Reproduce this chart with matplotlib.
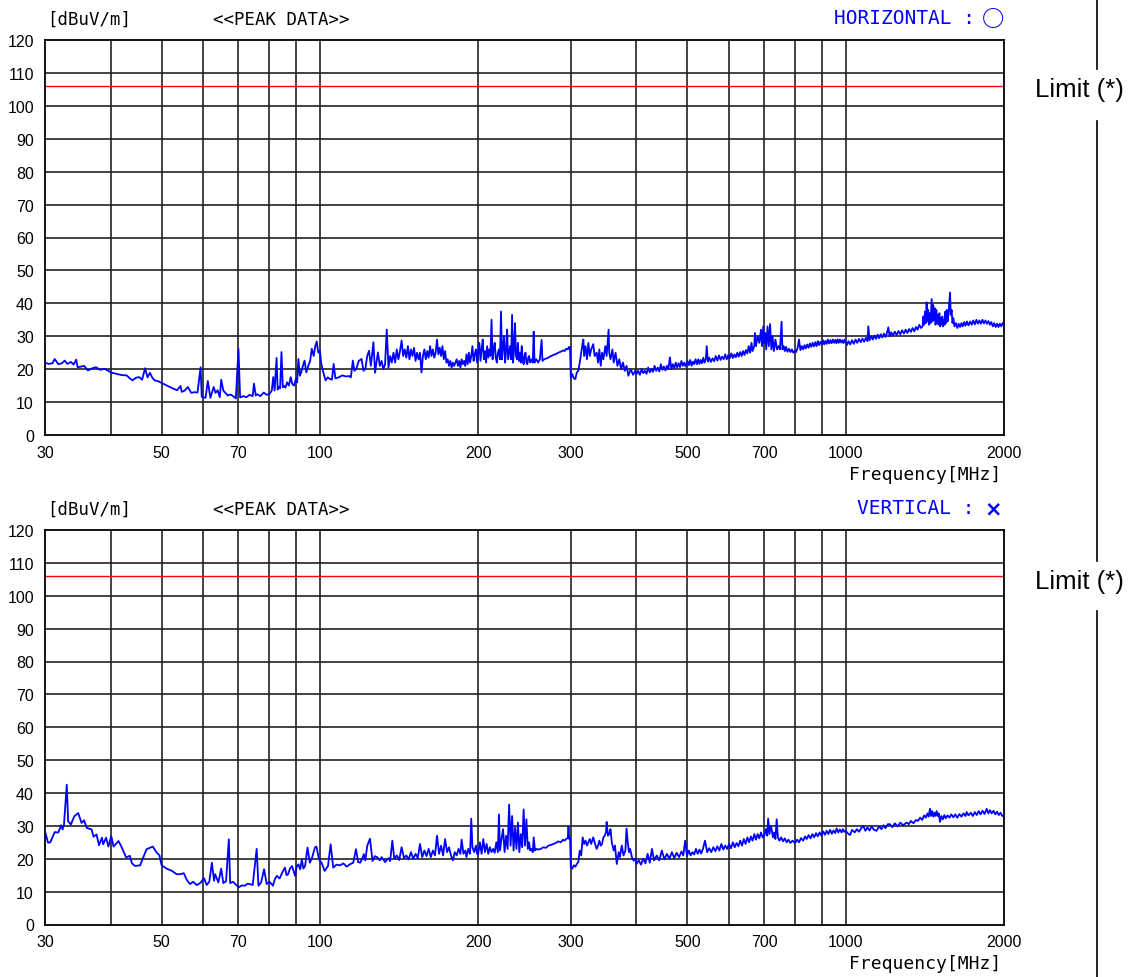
import matplotlib
matplotlib.use('Agg')
import matplotlib.pyplot as plt
from matplotlib.lines import Line2D
from matplotlib.ticker import NullLocator

# peak trace, horizontal polarisation (MHz, dBuV/m)
h_freq = [
    30, 30.5, 31, 31.3, 31.8, 32.3, 32.7, 33.1, 33.6, 34.0,
    34.4, 34.6, 35.2, 35.6, 36.2, 36.8, 37.5, 38.2, 38.9, 39.5,
    40.0, 41.0, 42.0, 42.9, 43.5, 44.0, 44.7, 45.3, 45.9, 46.5,
    47.0, 47.5, 48.0, 48.5, 49.3, 50.0, 51.2, 52.6, 53.5, 54.3,
    54.6, 55.3, 56.1, 56.9, 57.7, 58.5, 59.3, 59.6, 60.6, 61.2,
    61.9, 62.8, 63.3, 63.9, 64.5, 64.9, 65.5, 66.1, 66.8, 67.6,
    68.4, 69.2, 70.0, 70.5, 71.5, 72.5, 73.5, 74.5, 74.9, 75.5,
    76.0, 77.0, 78.2, 79.2, 80.3, 81.0, 81.5, 82.0, 82.7, 83.1,
    83.5, 84.0, 84.5, 85.0, 85.3, 86.0, 86.6, 87.3, 88.0, 88.6,
    89.3, 90.0, 90.5, 91.0, 91.6, 92.1, 92.8, 93.5, 94.2, 95.0,
    95.8, 96.5, 97.3, 98.0, 98.6, 99.3, 100.0, 100.6, 101.5, 102.5,
    103.5, 104.5, 105.4, 106.2, 107.0, 108.5, 110.3, 112.0, 113.7, 114.5,
    115.5, 116.3, 117.3, 118.5, 120.0, 121.0, 122.0, 123.0, 124.0, 125.0,
    126.4, 127.3, 128.9, 130, 131, 132, 133, 134, 135, 136,
    137, 138, 139, 140, 141, 142, 143, 144, 145, 146,
    147, 148, 149, 150, 151, 152, 153, 154, 155, 156,
    157, 158, 159, 160, 161, 162, 163, 164, 165, 166,
    167, 168, 169, 170, 171, 172, 173, 174, 175, 176,
    177, 178, 179, 180, 182, 183, 184, 185, 186, 187,
    188, 189, 190, 191, 192, 193, 194, 195, 196, 197,
    198, 199, 200, 201, 202, 203, 204, 205, 206, 207,
    208, 209, 210, 211, 212, 213, 214, 215, 216, 217,
    218, 219, 220, 221, 222, 223, 224, 225, 226, 227,
    228, 229, 230, 231, 232, 233, 234, 235, 236, 237,
    238, 239, 240, 241, 242, 243, 244, 245, 246, 247,
    248, 249, 250, 251, 252, 253, 254, 255, 256, 257,
    258, 260, 262, 264, 265, 267, 269, 272, 275, 278,
    281, 284, 287, 290, 292, 294, 296, 298, 299, 300,
    302, 304, 306, 308, 310, 312, 314, 316, 317, 318,
    320, 322, 324, 326, 328, 331, 333, 336, 338, 340,
    342, 344, 346, 349, 351, 354, 355, 357, 360, 362,
    365, 368, 371, 374, 377, 380, 383, 386, 390, 394,
    398,
    400, 403, 406, 409, 412, 415, 418, 421, 424, 427,
    430, 433, 436, 439, 442, 445, 448, 451, 454, 457,
    460, 463, 466, 469, 472, 475, 478, 481, 484, 487,
    490, 493, 496, 500, 503, 506, 509, 512, 515, 518,
    521, 524, 527, 530, 533, 536, 539, 542, 544, 547,
    550, 554, 558, 562, 566, 570, 574, 578, 582, 586,
    590, 594, 598, 602, 606, 610, 614, 618, 622, 626,
    630, 634, 638, 642, 646, 650, 654, 658, 662, 665,
    670, 672, 675, 680, 685, 690, 693, 697, 700,
    703, 706, 710, 714, 718, 722, 726, 730, 735, 740,
    745, 750, 755, 758, 762, 766, 770, 775, 780, 785,
    790, 795, 800,
    805, 810, 815, 820, 825, 830, 835, 840, 845, 850,
    855, 860, 865, 870, 875, 880, 885, 890, 895, 900,
    905, 910, 915, 920, 925, 930, 935, 940, 945, 950,
    955, 960, 965, 970, 975, 980, 985, 990, 995, 1000,
    1005, 1012, 1020, 1028, 1036, 1044, 1052, 1060, 1068, 1076,
    1084, 1092, 1100, 1104, 1110, 1118, 1126, 1134, 1142, 1150,
    1158, 1166, 1174, 1182, 1190, 1198, 1205, 1212, 1220, 1230,
    1240, 1250, 1260, 1270, 1280, 1290, 1300, 1310, 1320, 1330,
    1340, 1350, 1360, 1370, 1380, 1390,
    1400, 1405, 1410, 1415, 1420, 1425, 1430, 1435, 1440, 1445,
    1450, 1457, 1462, 1467, 1472, 1477, 1482, 1487, 1492, 1497,
    1502, 1507, 1512, 1517, 1522, 1527, 1532, 1537, 1542, 1547,
    1552, 1557, 1562, 1567, 1572, 1579, 1584, 1590, 1596, 1602,
    1610, 1620, 1630, 1640, 1650, 1660, 1670, 1680, 1690, 1700,
    1712, 1724, 1736, 1748, 1760, 1772, 1784, 1796, 1808, 1820,
    1832, 1844, 1856, 1868, 1880, 1892, 1904, 1916, 1928, 1940,
    1952, 1964, 1976, 1988, 2000,
]
h_level = [
    22, 21.6, 21.8, 23.1, 21.5, 21.8, 22.6, 21.6, 22.2, 21.4,
    22.9, 20.6, 20.8, 21.0, 19.6, 20.2, 20.6, 19.8, 20.1, 19.6,
    19.0, 18.6, 18.2, 18.1, 17.2, 16.6, 17.4, 17.6, 16.8, 20.3,
    17.5, 18.9, 17.4, 16.6, 16.3, 15.8, 15.0, 14.1, 13.6, 14.9,
    13.1, 13.5, 14.6, 12.8, 13.0, 12.9, 20.6, 11.6, 11.3, 16.4,
    11.3, 14.6, 12.8, 13.6, 11.5, 16.8, 13.5, 12.8, 12.0, 12.3,
    11.8, 11.1, 26.2, 11.4, 11.8, 11.5, 12.2, 11.8, 15.6, 12.0,
    12.4, 11.8, 12.9, 12.2, 12.6, 13.5, 17.6, 13.5, 23.4, 13.8,
    14.6, 14.2, 25.2, 14.5, 15.0, 14.4, 16.0, 15.0, 17.6, 15.5,
    15.0, 17.0, 16.0, 23.1, 18.0, 19.0, 21.0, 22.6, 19.0, 21.0,
    22.5, 26.2, 24.0, 27.0, 28.4, 25.0, 25.5, 21.6, 19.0, 16.6,
    17.5, 17.0, 16.8, 21.6, 17.2, 17.5, 18.1, 17.8, 17.9, 17.5,
    22.6, 19.5, 20.1, 22.5, 23.1, 19.5, 20.1, 24.0, 25.6, 21.0,
    28.2, 18.9, 25.1, 21.0, 22.5, 20.0, 21.5, 32.0, 20.5, 24.0,
    22.0, 25.0, 22.0, 26.0, 23.0, 25.5, 28.7, 24.0, 26.0, 23.5,
    27.0, 23.0, 26.0, 24.0, 26.5, 22.5, 25.0, 23.0, 25.0, 19.0,
    24.0, 26.0, 23.0, 25.5, 23.5, 27.0, 24.0, 26.0, 23.5, 25.0,
    29.0, 24.5, 26.5, 24.0, 27.0, 23.0, 25.5, 22.0, 23.0, 21.0,
    22.5, 20.5, 22.0, 21.0, 23.0, 21.0, 22.5, 20.5, 23.0, 21.5,
    22.5, 21.0, 24.5, 21.5, 25.0, 22.0, 24.0, 27.0, 22.5, 24.5,
    26.0, 22.0, 25.0, 28.0, 22.5, 26.0, 29.0, 23.0, 25.5, 22.0,
    27.0, 23.5, 26.0, 24.0, 35.0, 23.0, 26.0, 28.0, 23.5, 22.0,
    25.0, 26.0, 23.0, 37.5, 23.0, 27.0, 30.0, 22.0, 25.5, 32.0,
    23.0, 25.0, 27.0, 23.0, 36.5, 22.0, 26.0, 34.0, 24.0, 23.0,
    28.0, 22.5, 25.0, 22.0, 27.0, 23.0, 21.5, 24.0, 25.0, 22.0,
    21.5, 23.5, 24.0, 22.0, 22.5, 23.0, 22.0, 31.4, 22.0, 22.8,
    23.0, 22.0, 23.0, 28.9, 22.5, 23.0, 23.2, 23.5, 24.0, 24.3,
    24.6, 25.0, 25.3, 25.7, 25.5, 26.2, 26.0, 26.8, 26.5, 17.5,
    18.5, 17.2, 17.0, 19.0, 19.5, 22.0, 25.0, 28.0, 29.0, 24.0,
    27.0, 23.0, 28.0, 24.0, 26.0, 27.6, 24.0, 25.0, 22.0, 26.0,
    21.0, 25.0, 23.0, 27.0, 24.0, 32.0, 25.0, 23.0, 26.0, 22.0,
    25.0, 21.0, 23.0, 20.0, 22.0, 19.5, 21.0, 18.0, 20.0, 18.3,
    19.5,
    18.5, 19.5, 18.3, 20.0, 18.8, 19.5, 18.6, 20.5, 19.0, 20.0,
    19.2, 21.0, 19.5, 20.5, 19.3, 21.5, 19.8, 20.8, 19.6, 21.0,
    20.0, 23.6, 20.0, 21.5, 20.3, 22.0, 20.5, 21.8, 20.6, 22.5,
    21.0, 22.0, 20.8, 22.5, 21.2, 22.8, 21.0, 22.3, 21.5, 23.0,
    21.5, 23.0, 21.6, 22.8, 21.8, 23.5, 22.0, 23.0, 27.0, 22.3,
    23.5, 22.2, 23.3, 22.4, 24.0, 22.6, 24.2, 22.8, 23.8, 23.0,
    24.5, 23.0, 24.3, 23.3, 24.8, 23.4, 24.5, 23.6, 25.0, 23.8,
    25.2, 24.0, 25.5, 24.3, 25.8, 24.8, 27.0, 25.0, 28.0, 25.5,
    27.0, 31.0, 27.0, 30.0, 28.0, 32.0, 27.0, 33.0, 28.0,
    31.0, 26.0, 33.0, 27.0, 33.7, 26.0, 30.0, 25.5, 29.0, 26.0,
    27.0, 26.0, 34.4, 26.0, 27.0, 25.5, 26.8, 25.3, 26.2, 25.2,
    26.0, 25.0, 25.6,
    25.2, 26.5, 29.0, 25.8, 27.0, 26.0, 27.3, 26.3, 27.5, 26.5,
    27.8, 26.8, 28.0, 26.9, 28.2, 27.0, 28.5, 27.3, 28.3, 27.5,
    28.8, 27.5, 28.6, 27.7, 29.0, 27.8, 28.8, 27.9, 29.0, 28.0,
    28.9, 27.9, 29.1, 28.0, 29.0, 28.1, 28.8, 27.9, 29.0, 28.3,
    27.3, 28.5, 27.5, 28.8, 27.7, 29.0, 28.0, 29.2, 28.2, 29.3,
    28.3, 29.5, 28.5, 33.0, 28.8, 30.0, 29.0, 30.2, 29.2, 30.5,
    29.4, 30.6, 29.6, 30.8, 29.8, 31.0, 32.7, 30.0, 31.2, 30.2,
    31.4, 30.4, 31.6, 30.6, 31.8, 30.8, 32.0, 31.0, 32.2, 31.3,
    32.5, 31.5, 32.8, 32.0, 33.5, 32.5,
    33.0, 36.0, 33.5, 37.5, 34.0, 40.3, 34.5, 38.0, 33.5, 37.0,
    34.0, 41.3, 34.5, 39.5, 35.0, 38.5, 33.5, 38.0, 34.0, 36.5,
    33.5, 37.0, 33.0, 35.5, 33.5, 36.0, 33.0, 35.0, 33.5, 37.5,
    34.0, 38.0, 34.5, 36.0, 39.0, 43.3, 36.5, 38.0, 34.0, 35.5,
    33.0, 34.0, 32.5, 33.8, 32.8, 34.0, 33.0, 34.3, 33.2, 34.5,
    33.3, 34.5, 33.5, 34.8, 33.6, 35.0, 33.8, 34.8, 33.8, 35.0,
    33.9, 34.8, 33.8, 34.6, 33.5, 34.3, 33.0, 34.0, 32.8, 33.8,
    32.8, 33.8, 33.0, 34.0, 33.5,
]

# peak trace, vertical polarisation (MHz, dBuV/m)
v_freq = [
    30.0, 30.4, 30.7, 31.3, 31.8, 32.2, 32.4, 32.6, 33.0, 33.2,
    33.6, 34.1, 34.7, 35.2, 35.6, 36.0, 36.8, 37.1, 37.6, 38.0,
    38.5, 38.7, 39.2, 39.6, 40.1, 40.5, 41.4, 42.0, 42.8, 43.5,
    43.9, 44.5, 45.5, 46.8, 48.1, 48.9, 49.5, 50.0, 51.1, 52.3,
    53.4, 54.2, 55.1, 55.8, 56.6, 57.4, 58.3, 59.2, 60.2, 60.9,
    61.6, 62.3, 62.9, 63.2, 64.1, 64.9, 65.5, 66.3, 67.1, 67.5,
    68.3, 69.0, 70.1, 71.0, 72.0, 72.8, 73.6, 74.5, 75.8, 76.4,
    77.3, 78.3, 79.2, 80.2, 81.4, 82.1, 82.8, 83.8, 84.8, 85.8,
    86.4, 87.0, 87.7, 88.5, 89.7, 90.3, 91.0, 91.7, 92.4, 93.0,
    93.7, 94.7, 95.7, 96.7, 97.8, 98.5, 99.6, 100.7, 102.1, 103.6,
    104.8, 106.0, 107.5, 109.2, 110.8, 112.4, 114.0, 115.7, 117.1, 118.2,
    119.3, 120.3, 121.2, 122.0, 123.0, 124.5, 125.9, 127.2, 128.7, 130.0,
    131, 133, 135, 136, 137.3, 138.5, 140, 141.5, 143, 144.5,
    146, 147.5, 149, 150.5, 152, 153.5, 155, 156.5, 158, 159.5,
    161, 162.5, 164, 165.5, 167, 168.5, 170, 171.5, 173, 174.5,
    176, 177.5, 179, 180.5, 182, 183.5, 185, 186, 187.5, 189,
    190, 191.5, 193, 194, 195, 196.5, 198, 199, 200, 201.5,
    203, 204.5, 206, 207.5, 209, 210.5, 212, 213.6, 215, 216.5,
    218, 219, 220, 221.5, 223, 224.5, 226, 227.5, 229, 230.5,
    232, 233.5, 235, 236.5, 238, 239.5, 241, 242.5, 244, 245.5,
    247, 248.5, 250, 251, 252.5, 254, 255, 256.5, 258, 260,
    263, 266, 269, 272, 275, 278, 281, 284, 287, 290,
    292, 294, 296, 297, 298, 299, 300, 302, 304, 306,
    308, 310, 312, 314, 316, 318, 320, 322, 324, 326,
    328, 331, 333, 336, 338, 340, 342, 344, 346, 348,
    350, 351, 353, 355, 357, 359, 362, 364, 367, 370,
    372, 375, 378, 381, 383, 385, 387, 389, 392, 395,
    398,
    400, 404, 408, 412, 416, 420, 424, 428, 432, 437,
    442, 447, 452, 457, 462, 467, 472, 477, 482, 487,
    491, 495, 499, 503, 507, 511, 515, 519, 523, 527,
    531, 535, 540, 545, 550, 555, 560, 565, 570, 575,
    580, 585, 590, 595, 600, 605, 610, 615, 620, 625,
    630, 635, 640, 645, 650, 655, 660, 665, 670, 675,
    680, 685, 690, 695, 700,
    705, 709, 712, 716, 720, 723, 727, 731, 735, 739,
    743, 748, 754, 760, 766, 772, 778, 785, 792, 801,
    808, 815, 822, 830, 837, 843, 850, 857, 864, 871,
    878, 885, 892, 899, 906, 913, 920, 927, 934, 941,
    948, 955, 961, 968, 975, 982, 988, 994, 1000,
    1008, 1019, 1028, 1040, 1050, 1060, 1070, 1080, 1090, 1100,
    1110, 1120, 1132, 1145, 1157, 1170, 1180, 1190, 1202, 1214,
    1227, 1240, 1255, 1270, 1285, 1306, 1318, 1330, 1345, 1360,
    1372, 1385, 1398,
    1410, 1420, 1430, 1438, 1446, 1453, 1460, 1468, 1475, 1482,
    1489, 1496, 1503, 1511, 1520, 1530, 1540, 1550, 1562, 1575,
    1588, 1602, 1616, 1630, 1645, 1660, 1675, 1690, 1698, 1712,
    1730, 1745, 1760, 1775, 1790, 1805, 1820, 1836, 1854, 1867,
    1881, 1895, 1910, 1925, 1940, 1955, 1970, 1985, 2000,
]
v_level = [
    28.4, 24.9, 25.0, 28.1, 28.0, 30.2, 28.9, 30.4, 42.5, 31.4,
    30.4, 32.9, 33.9, 30.9, 31.7, 29.4, 28.9, 26.7, 27.4, 24.1,
    26.4, 24.4, 26.4, 23.7, 26.9, 23.7, 25.4, 23.4, 20.4, 20.9,
    18.6, 17.8, 18.0, 22.9, 23.7, 21.9, 21.1, 18.0, 17.0, 16.3,
    15.3, 15.3, 15.6, 13.6, 12.3, 13.0, 12.0, 12.6, 14.1, 12.0,
    13.0, 18.8, 13.3, 15.3, 12.8, 17.0, 12.6, 13.2, 25.9, 12.6,
    13.0, 12.3, 11.3, 11.9, 11.8, 12.4, 12.3, 12.0, 23.0, 11.8,
    12.8, 16.8, 12.3, 13.0, 11.8, 13.8, 14.8, 14.0, 15.8, 17.3,
    15.0, 15.3, 17.0, 17.8, 14.8, 17.5, 18.3, 16.8, 19.8, 17.0,
    17.8, 23.4, 18.8, 20.5, 23.4, 23.7, 19.8, 18.8, 16.3, 17.8,
    24.4, 17.3, 18.2, 18.0, 18.6, 17.6, 18.3, 18.8, 22.9, 19.0,
    18.8, 20.0, 21.4, 19.5, 23.9, 26.1, 19.3, 20.8, 20.4, 19.5,
    20.5, 19.0, 20.2, 19.3, 25.5, 20.0, 21.0, 19.6, 23.5, 20.2,
    21.0, 19.8, 22.0, 20.0, 21.5, 20.2, 24.5, 20.5, 22.5, 20.8,
    23.0, 20.5, 22.5, 21.0, 27.0, 21.5, 24.0, 21.0, 26.0, 22.0,
    23.5, 21.0, 19.5, 22.0, 21.0, 23.0, 21.5, 25.8, 21.5, 22.5,
    20.5, 23.0, 21.5, 32.2, 23.5, 22.0, 24.0, 21.5, 21.4, 25.0,
    21.5, 26.0, 22.0, 24.5, 21.5, 23.5, 22.0, 23.0, 21.8, 25.0,
    22.0, 33.5, 22.5, 26.0, 29.0, 22.0, 27.0, 23.0, 36.5, 24.0,
    33.0, 22.5, 29.5, 23.0, 31.0, 22.0, 27.5, 23.5, 35.0, 24.0,
    32.0, 23.0, 25.0, 22.5, 23.0, 22.0, 26.5, 22.5, 23.0, 22.8,
    23.0, 23.5, 23.3, 24.0, 24.2, 24.5, 24.8, 25.3, 25.0, 25.8,
    25.5, 26.0, 26.3, 29.8, 26.0, 26.5, 17.4, 17.0, 18.0, 17.6,
    18.4, 19.0, 22.5, 21.0, 26.5, 24.5, 25.5, 24.0, 25.0, 26.0,
    24.5, 26.5, 25.0, 23.0, 24.0, 25.5, 24.0, 24.5, 26.5, 27.0,
    28.0, 31.2, 27.0, 27.5, 29.0, 25.0, 22.5, 24.0, 18.4, 22.0,
    20.5, 24.0, 21.0, 22.5, 29.2, 25.0, 22.0, 23.0, 20.5, 19.4,
    20.0,
    18.4, 19.5, 18.2, 20.0, 18.6, 21.5, 18.8, 23.0, 19.5, 21.0,
    19.5, 22.5, 19.8, 21.5, 20.0, 22.0, 20.2, 21.8, 20.5, 22.2,
    21.0, 25.5, 20.8, 22.5, 21.0, 22.0, 21.3, 23.0, 21.5, 22.8,
    21.6, 23.0, 25.5, 22.0, 23.2, 22.0, 23.5, 22.3, 23.8, 22.5,
    24.5, 22.8, 24.0, 23.0, 24.5, 23.2, 25.0, 23.5, 24.8, 23.8,
    25.5, 24.0, 26.0, 24.5, 26.5, 25.0, 26.8, 25.5, 27.5, 25.8,
    27.5, 26.2, 28.0, 26.5, 27.0,
    29.0, 27.0, 32.2, 27.5, 30.0, 29.0, 26.5, 28.0, 26.0, 32.0,
    26.5, 25.5, 26.5, 25.3, 26.2, 25.0, 25.8, 24.8, 25.5, 24.8,
    25.8, 25.0, 26.3, 25.5, 26.8, 26.0, 27.2, 26.2, 27.5, 26.5,
    27.8, 26.8, 28.0, 27.0, 28.3, 27.3, 28.5, 27.5, 28.8, 27.6,
    28.6, 27.8, 29.2, 28.0, 28.9, 28.0, 29.0, 28.2, 28.5,
    27.8, 27.2, 28.8, 28.0, 29.0, 28.2, 29.3, 30.0, 28.5, 29.5,
    28.6, 29.8, 28.8, 28.5, 29.8, 29.0, 30.2, 29.3, 30.5, 30.5,
    29.6, 30.8, 29.8, 31.0, 30.2, 31.0, 30.5, 31.5, 30.8, 31.8,
    31.5, 32.5, 31.8,
    33.2, 32.5, 33.8, 32.8, 35.2, 33.0, 34.5, 32.8, 34.0, 33.0,
    34.5, 33.0, 33.8, 31.2, 33.0, 32.0, 33.3, 32.3, 33.2, 32.5,
    33.5, 32.6, 33.5, 32.5, 33.6, 32.8, 33.8, 33.0, 34.2, 33.2,
    34.0, 33.0, 34.2, 33.3, 34.5, 33.5, 34.6, 33.6, 35.2, 33.8,
    34.8, 33.8, 34.6, 33.5, 34.3, 33.3, 34.0, 33.0, 33.0,
]

limit_level = 106
x_ticks = [30, 50, 70, 100, 200, 300, 500, 700, 1000, 2000]
x_grid = [40, 50, 60, 70, 80, 90, 100, 200, 300, 400, 500, 600, 700, 800, 900, 1000]
y_ticks = list(range(0, 121, 10))

assert len(h_freq) == len(h_level)
assert len(v_freq) == len(v_level)

W, H = 1129, 978
fig = plt.figure(figsize=(W / 100, H / 100), dpi=100)

mono = 'DejaVu Sans Mono'
sans = 'Liberation Sans'


def box(left, top, right, bottom):
    return [left / W, 1 - bottom / H, (right - left) / W, (bottom - top) / H]


panels = [
    (h_freq, h_level, 'HORIZONTAL :', '○', 'Noto Sans CJK JP', 16, 41, 436),
    (v_freq, v_level, 'VERTICAL :', '×', 'DejaVu Sans', 15, 531, 925.5),
]

for freq, level, pol, mark, mark_font, mark_size, top, bottom in panels:
    ax = fig.add_axes(box(45, top, 1004, bottom))
    ax.set_xscale('log')
    ax.set_xlim(30, 2000)
    ax.set_ylim(0, 120)

    for f in x_grid:
        ax.axvline(f, color='#222222', lw=1.2, zorder=1)
    for y in y_ticks[1:-1]:
        ax.axhline(y, color='#222222', lw=1.2, zorder=1)
    ax.axhline(limit_level, color='red', lw=1.0, zorder=2)

    ax.plot(freq, level, color='#0000ff', lw=1.3, zorder=3)

    ax.set_xticks(x_ticks)
    ax.set_xticklabels([str(t) for t in x_ticks])
    ax.xaxis.set_minor_locator(NullLocator())
    ax.set_yticks(y_ticks)
    ax.tick_params(axis='both', length=0, labelsize=11.5)
    ax.tick_params(axis='y', pad=8)
    ax.tick_params(axis='x', pad=7)
    for lab in ax.get_xticklabels() + ax.get_yticklabels():
        lab.set_fontfamily(sans)
    for sp in ax.spines.values():
        sp.set_linewidth(1.3)
        sp.set_color('black')

    # header and axis caption
    fig.text(47 / W, 1 - (top - 21) / H, '[dBuV/m]', family=mono, fontsize=12.5,
             ha='left', va='center')
    fig.text(213 / W, 1 - (top - 21) / H, '<<PEAK DATA>>', family=mono, fontsize=12.5,
             ha='left', va='center')
    fig.text(975 / W, 1 - (top - 22) / H, pol, family=mono, fontsize=14,
             color='#0000ff', ha='right', va='center')
    fig.text(993 / W, 1 - (top - 22) / H, mark, family=mark_font, fontsize=mark_size,
             fontweight='bold', color='#0000ff', ha='center', va='center')
    fig.text(1001 / W, 1 - (bottom + 39) / H, 'Frequency[MHz]', family=mono, fontsize=13,
             ha='right', va='center')

# limit labels with the vertical rule on the right
for y0, y1 in [(0, 70), (122, 562), (612, 978)]:
    fig.add_artist(Line2D([1097 / W, 1097 / W], [1 - y0 / H, 1 - y1 / H],
                          color='black', lw=1.2))
for yc in [90, 582]:
    fig.text(1035 / W, 1 - yc / H, 'Limit (*)', family=sans, fontsize=18.5,
             ha='left', va='center')

fig.savefig('out.png', dpi=100)
